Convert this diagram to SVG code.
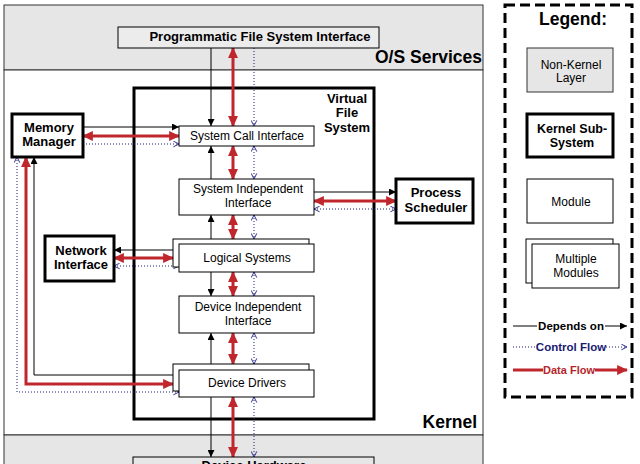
<svg xmlns="http://www.w3.org/2000/svg" width="640" height="464" viewBox="0 0 640 464">
<style>
text{font-family:"Liberation Sans",Arial,sans-serif;fill:#000}
.b13{font-size:13px;font-weight:bold;text-anchor:middle}
.r12{font-size:12px;text-anchor:middle}
.big{font-size:17.5px;font-weight:bold;text-anchor:end}
.layer{fill:#e6e6e6;stroke:#333;stroke-width:1}
.mod{fill:#fff;stroke:#000;stroke-width:1}
.sub{fill:#fff;stroke:#000;stroke-width:3}
.dep{fill:none;stroke:#000;stroke-width:1;marker-end:url(#mdep)}
.dat{fill:none;stroke:#c0272d;stroke-width:3;marker-end:url(#mdat)}
.dat2{marker-start:url(#mdat)}
.ctl{fill:none;stroke:#1a1a80;stroke-width:1;stroke-dasharray:1 2;marker-end:url(#mctl)}
.ctl2{marker-start:url(#mctl)}
</style>
<defs>
<marker id="mdep" viewBox="0 0 10 10" refX="10" refY="5" markerWidth="7" markerHeight="7" markerUnits="userSpaceOnUse" orient="auto-start-reverse"><path d="M0,0 L10,5 L0,10 z" fill="#000"/></marker>
<marker id="mctl" viewBox="0 0 10 10" refX="10" refY="5" markerWidth="7" markerHeight="7" markerUnits="userSpaceOnUse" orient="auto-start-reverse"><path d="M2,1 L10,5 L2,9" fill="none" stroke="#1a1a80" stroke-width="1.3"/></marker>
<marker id="mdat" viewBox="0 0 10 10" refX="9" refY="5" markerWidth="11" markerHeight="11" markerUnits="userSpaceOnUse" orient="auto-start-reverse"><path d="M0,0.5 L10,5 L0,9.5 z" fill="#c0272d"/></marker>
</defs>
<rect width="640" height="464" fill="#fff"/>
<g id="layers">
<rect class="layer" x="4" y="5" width="479" height="65"/>
<rect x="4" y="70" width="479" height="365" fill="#fff" stroke="#333"/>
<rect class="layer" x="4" y="435" width="479" height="40"/>
<text class="big" x="482" y="63">O/S Services</text>
<text class="big" x="477" y="428">Kernel</text>
</g>
<g id="vfs">
<rect x="134" y="88" width="240" height="331" fill="none" stroke="#000" stroke-width="3"/>
<text class="b13" x="347" y="103">Virtual</text>
<text class="b13" x="347" y="117">File</text>
<text class="b13" x="347" y="132">System</text>
</g>
<g id="connectors">
<path class="dep" d="M211,48 V126"/>
<path class="dat dat2" d="M233,48 V126"/>
<path class="ctl" d="M254,48 V126"/>
<path class="dep" d="M211,179 V146"/>
<path class="dat dat2" d="M233,146 V179"/>
<path class="ctl ctl2" d="M254,146 V179"/>
<path class="dep" d="M211,239 V215"/>
<path class="dat dat2" d="M233,215 V239"/>
<path class="ctl ctl2" d="M254,215 V239"/>
<path class="dep" d="M211,272 V296"/>
<path class="dat dat2" d="M233,272 V296"/>
<path class="ctl ctl2" d="M254,272 V296"/>
<path class="dep" d="M211,364 V333"/>
<path class="dat dat2" d="M233,333 V364"/>
<path class="ctl ctl2" d="M254,333 V364"/>
<path class="dep" d="M211,397 V457"/>
<path class="dat dat2" d="M233,397 V457"/>
<path class="ctl ctl2" d="M254,397 V457"/>
<path class="dep" d="M83,127 H179"/>
<path class="dat dat2" d="M83,136 H179"/>
<path class="ctl" d="M83,144 H179"/>
<path class="dep" d="M314,192 H396"/>
<path class="dat dat2" d="M314,201 H396"/>
<path class="ctl ctl2" d="M314,209 H396"/>
<path class="dep" d="M173,250 H114"/>
<path class="dat dat2" d="M114,258 H173"/>
<path class="ctl ctl2" d="M114,266 H179"/>
<path class="dep" d="M173,375 H34 V157"/>
<path class="dat dat2" d="M173,384 H26 V157"/>
<path class="ctl ctl2" d="M179,392 H17 V157"/>
</g>
<g id="pfsi">
<rect x="118" y="27" width="261" height="21" fill="#ececec" stroke="#000"/>
<text class="b13" x="260" y="41">Programmatic File System Interface</text>
</g>
<g id="memory-manager">
<rect class="sub" x="12" y="114" width="71" height="43"/>
<text class="b13" x="49" y="132">Memory</text>
<text class="b13" x="49" y="146">Manager</text>
</g>
<g id="network-interface">
<rect class="sub" x="45" y="236" width="69" height="45"/>
<text class="b13" x="81" y="255">Network</text>
<text class="b13" x="81" y="269">Interface</text>
</g>
<g id="process-scheduler">
<rect class="sub" x="396" y="179" width="77" height="44"/>
<text class="b13" x="436" y="197">Process</text>
<text class="b13" x="436" y="212">Scheduler</text>
</g>
<g id="system-call-interface">
<rect class="mod" x="179" y="126" width="135" height="20"/>
<text class="r12" x="247" y="140">System Call Interface</text>
</g>
<g id="system-independent-interface">
<rect class="mod" x="179" y="179" width="135" height="36"/>
<text class="r12" x="248" y="193">System Independent</text>
<text class="r12" x="248" y="207">Interface</text>
</g>
<g id="logical-systems">
<rect class="mod" x="173" y="239" width="136" height="28"/>
<rect class="mod" x="179" y="244" width="135" height="28"/>
<text class="r12" x="247" y="262">Logical Systems</text>
</g>
<g id="device-independent-interface">
<rect class="mod" x="179" y="296" width="135" height="37"/>
<text class="r12" x="248" y="311">Device Independent</text>
<text class="r12" x="248" y="325">Interface</text>
</g>
<g id="device-drivers">
<rect class="mod" x="173" y="364" width="136" height="27"/>
<rect class="mod" x="179" y="370" width="135" height="27"/>
<text class="r12" x="247" y="387">Device Drivers</text>
</g>
<g id="device-hardware">
<rect x="133" y="457" width="241" height="20" fill="#e6e6e6" stroke="#000"/>
<text class="b13" x="254" y="470">Device Hardware</text>
</g>
<g id="legend">
<rect x="505" y="5" width="127" height="392" fill="#fff" stroke="#000" stroke-width="3" stroke-dasharray="10 5"/>
<text x="573" y="25" style="font-size:17.5px;font-weight:bold;text-anchor:middle">Legend:</text>
<rect class="layer" x="527" y="48" width="86" height="44"/>
<text class="r12" x="571" y="69">Non-Kernel</text>
<text class="r12" x="571" y="82">Layer</text>
<rect class="sub" x="527" y="114" width="86" height="43"/>
<text class="b13" x="572" y="133" style="font-size:12.5px">Kernel Sub-</text>
<text class="b13" x="572" y="147" style="font-size:12.5px">System</text>
<rect class="mod" x="527" y="179" width="86" height="44"/>
<text class="r12" x="571" y="206">Module</text>
<rect class="mod" x="526" y="239" width="87" height="44"/>
<rect class="mod" x="532" y="244" width="87" height="44"/>
<text class="r12" x="576" y="263">Multiple</text>
<text class="r12" x="576" y="277">Modules</text>
<path d="M513,326 H537" stroke="#000" stroke-width="1"/>
<path class="dep" d="M605,326 H627"/>
<text x="571" y="330" style="font-size:11.5px;font-weight:bold;text-anchor:middle">Depends on</text>
<path d="M513,347 H535" stroke="#1a1a80" stroke-width="1" stroke-dasharray="1 2"/>
<path class="ctl" d="M606,347 H627"/>
<text x="571" y="351" style="font-size:11.5px;font-weight:bold;text-anchor:middle;fill:#1a1a70">Control Flow</text>
<path d="M513,370 H543" stroke="#c0272d" stroke-width="3"/>
<path class="dat" d="M595,370 H627"/>
<text x="569" y="374" style="font-size:11px;font-weight:bold;text-anchor:middle;fill:#b5262b">Data Flow</text>
</g>
</svg>
